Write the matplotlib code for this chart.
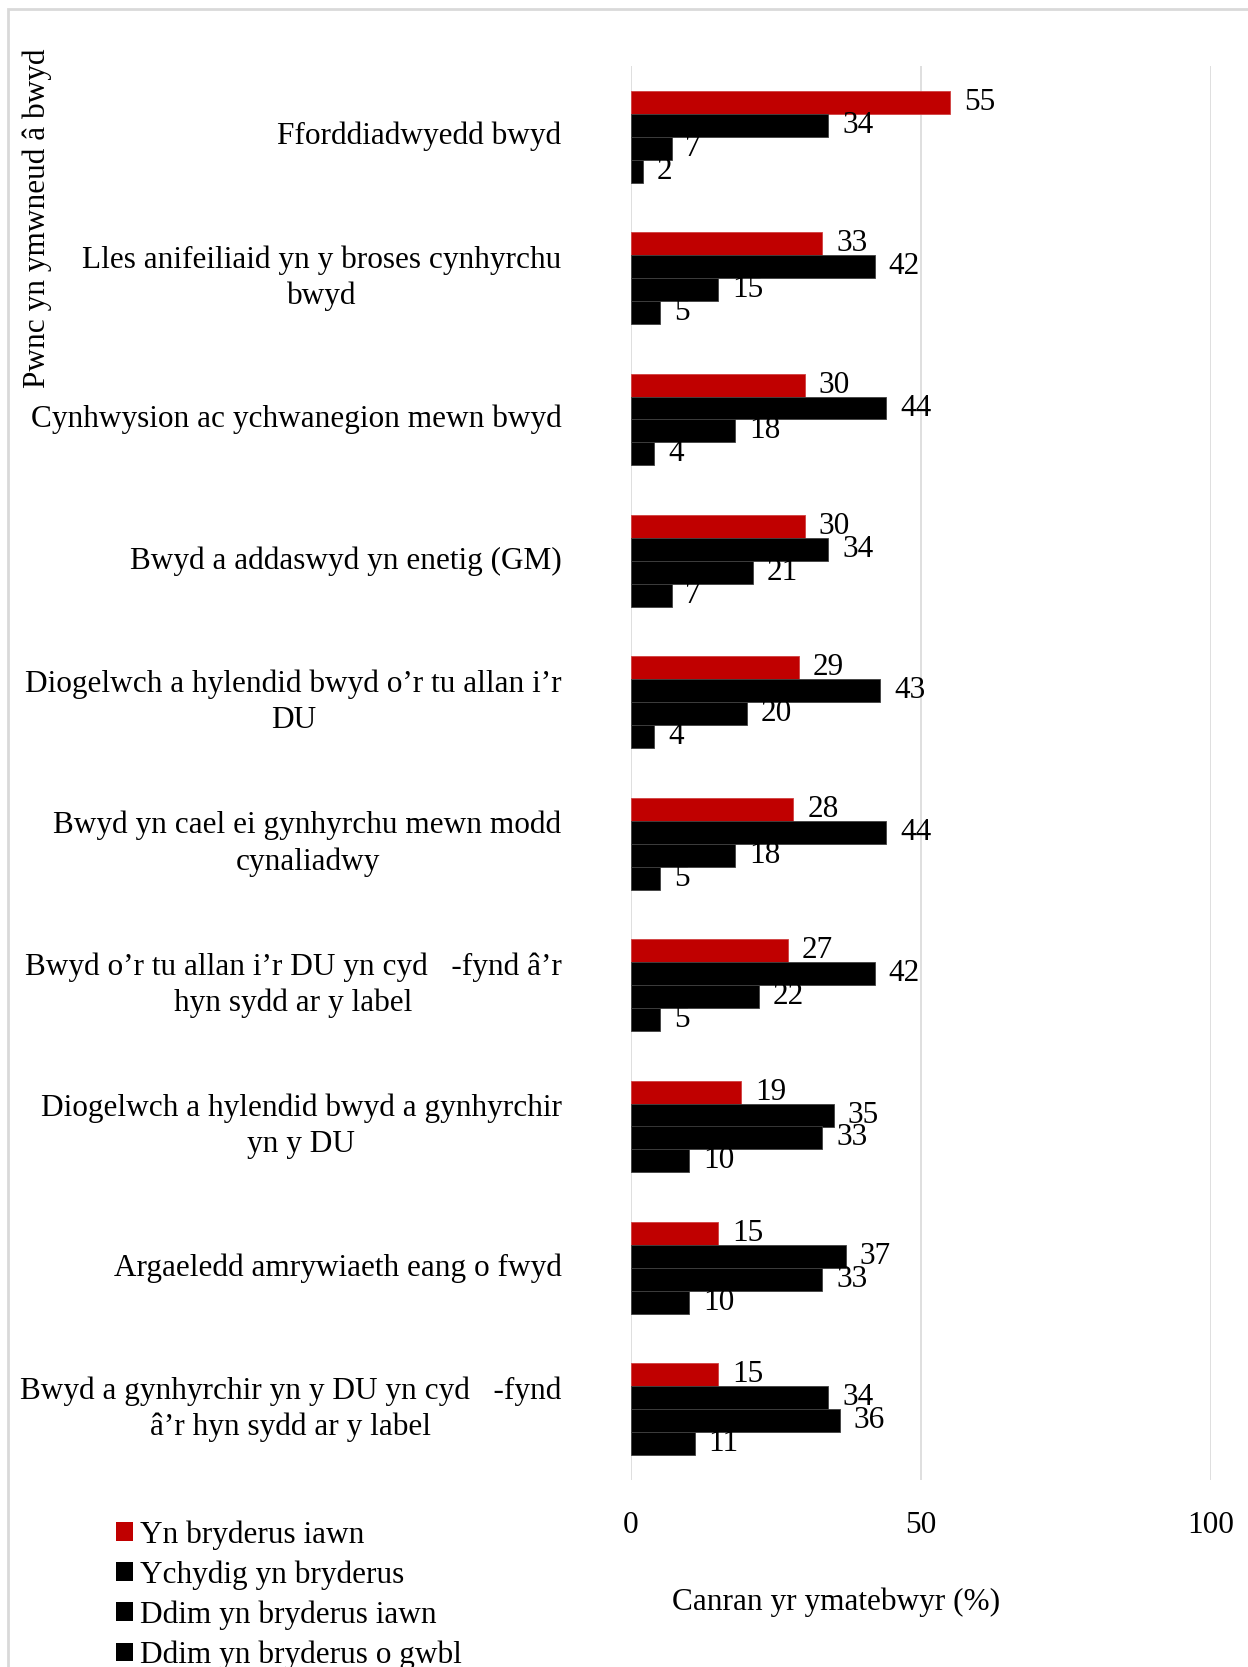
import matplotlib
matplotlib.use("Agg")
import matplotlib.pyplot as plt
from matplotlib.patches import Rectangle, Patch
import numpy as np

categories = [
    "Fforddiadwyedd bwyd",
    "Lles anifeiliaid yn y broses cynhyrchu\nbwyd",
    "Cynhwysion ac ychwanegion mewn bwyd",
    "Bwyd a addaswyd yn enetig (GM)",
    "Diogelwch a hylendid bwyd o’r tu allan i’r\nDU",
    "Bwyd yn cael ei gynhyrchu mewn modd\ncynaliadwy",
    "Bwyd o’r tu allan i’r DU yn cyd   -fynd â’r\nhyn sydd ar y label",
    "Diogelwch a hylendid bwyd a gynhyrchir\nyn y DU",
    "Argaeledd amrywiaeth eang o fwyd",
    "Bwyd a gynhyrchir yn y DU yn cyd   -fynd\nâ’r hyn sydd ar y label",
]
series_names = ["Yn bryderus iawn", "Ychydig yn bryderus",
                "Ddim yn bryderus iawn", "Ddim yn bryderus o gwbl"]
yn_bryderus_iawn = [55, 33, 30, 30, 29, 28, 27, 19, 15, 15]
ychydig = [34, 42, 44, 34, 43, 44, 42, 35, 37, 34]
ddim_iawn = [7, 15, 18, 21, 20, 18, 22, 33, 33, 36]
ddim_gwbl = [2, 5, 4, 7, 4, 5, 5, 10, 10, 11]
series_values = [yn_bryderus_iawn, ychydig, ddim_iawn, ddim_gwbl]
colors = ["#C00000", "#000000", "#000000", "#000000"]
xticks = [0, 50, 100]
xlabel = "Canran yr ymatebwyr (%)"
ylabel = "Pwnc yn ymwneud â bwyd"

plt.rcParams['font.family'] = ['Liberation Serif', 'DejaVu Serif']
FS = 22.5

W, H = 1248, 1667
fig = plt.figure(figsize=(W / 100, H / 100), dpi=100)
ax = fig.add_axes([631 / W, 1 - 1480 / H, (1211 - 631) / W, (1480 - 66) / H])

# figure border
fig.patches.append(Rectangle((8 / W, -0.5), 2.0, 1 - 9 / H + 0.5, transform=fig.transFigure,
                             fill=False, edgecolor="#D9D9D9", linewidth=2))

y = np.arange(len(categories))
h = 0.1625
for k, (name, vals, c) in enumerate(zip(series_names, series_values, colors)):
    off = (k - 1.5) * h
    bars = ax.barh(y + off, vals, height=h, color=c,
                   edgecolor="#404040" if k > 0 else "#D04040", linewidth=0.6,
                   label=name, zorder=3)
    ax.bar_label(bars, labels=[str(v) for v in vals], padding=10, fontsize=FS, zorder=4)

ax.set_ylim(len(categories) - 0.5, -0.5)
ax.set_xlim(0, 100)
ax.set_xticks(xticks)
ax.set_xticklabels([str(t) for t in xticks], fontsize=FS)
ax.set_yticks(y)
ax.set_yticklabels(categories, fontsize=FS, ha='right', va='center',
                   multialignment='center', linespacing=1.3)
ax.tick_params(axis='x', length=0, pad=22)
ax.tick_params(axis='y', length=0, pad=50)
for s in ax.spines.values():
    s.set_visible(False)
ax.grid(axis='x', color="#D9D9D9", linewidth=1.2, zorder=0)
ax.set_axisbelow(True)

fig.text(836 / W, 1 - 1602 / H, xlabel, fontsize=FS, ha='center', va='center')
fig.text(37 / W, 1 - 218 / H, ylabel, fontsize=FS, rotation=90, ha='center', va='center')

handles = [Patch(facecolor=c, edgecolor='none') for c in colors]
fig.legend(handles, series_names, loc='upper left', bbox_to_anchor=(116 / W, 1 - 1520 / H),
           frameon=False, fontsize=FS, handlelength=0.53, handleheight=0.53,
           handletextpad=0.25, labelspacing=0.34, borderpad=0, borderaxespad=0)

fig.savefig("out.png", dpi=100)
